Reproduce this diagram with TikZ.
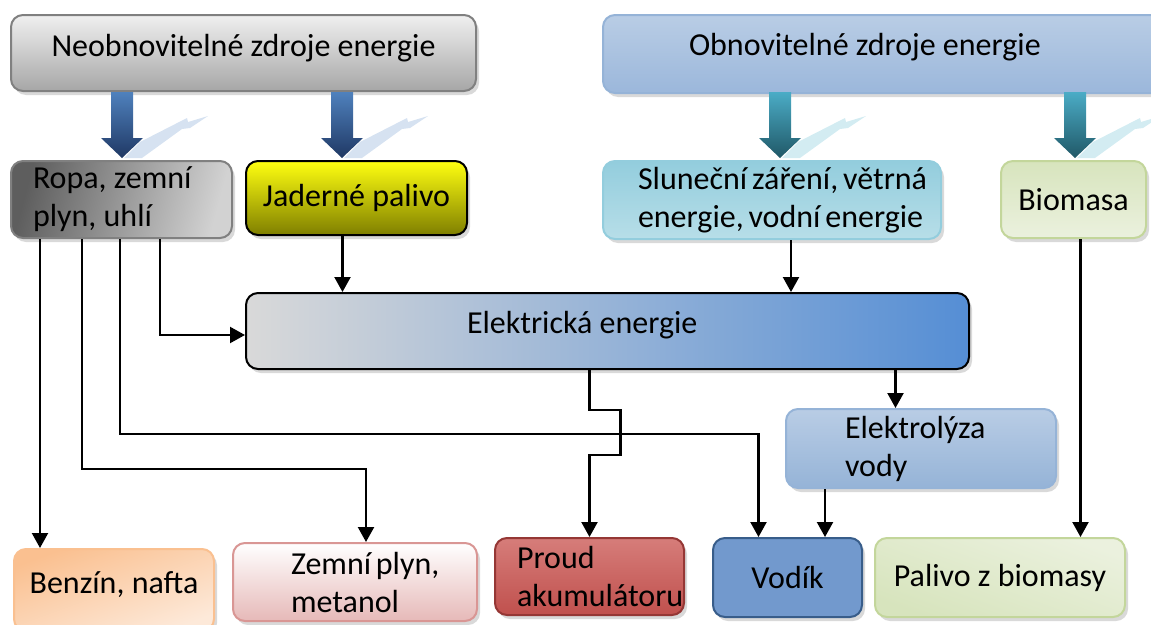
\documentclass[tikz,border=0pt]{standalone}
\usepackage{fontspec}
\setmainfont{Carlito}
\usetikzlibrary{arrows.meta,shadows,calc}

\definecolor{neobtop}{HTML}{F0F0F0}
\definecolor{neobbot}{HTML}{A6A6A6}
\definecolor{grayline}{HTML}{808080}
\definecolor{obntop}{HTML}{B9CDE5}
\definecolor{obnmid}{HTML}{DCE6F2}
\definecolor{obnbot}{HTML}{9BB7DB}
\definecolor{obnline}{HTML}{95B3D7}
\definecolor{ropal}{HTML}{5E5E5E}
\definecolor{ropar}{HTML}{D2D2D2}
\definecolor{jadtop}{HTML}{FFFF10}
\definecolor{jadbot}{HTML}{7F7F00}
\definecolor{sluntop}{HTML}{93CDDD}
\definecolor{slunmid}{HTML}{DAEEF3}
\definecolor{slunbot}{HTML}{B7DEE8}
\definecolor{greentop}{HTML}{D7E4BD}
\definecolor{greenmid}{HTML}{EBF1DE}
\definecolor{greenline}{HTML}{C3D69B}
\definecolor{elekl}{HTML}{D9D9D9}
\definecolor{elekr}{HTML}{558ED5}
\definecolor{benztop}{HTML}{FAC090}
\definecolor{benzbot}{HTML}{FDE9D9}
\definecolor{pinkbot}{HTML}{E6B9B8}
\definecolor{pinkline}{HTML}{D99694}
\definecolor{redtop}{HTML}{D67D7A}
\definecolor{redmid}{HTML}{C0504D}
\definecolor{redline}{HTML}{953735}
\definecolor{bluetop}{HTML}{7299CD}
\definecolor{bluemid}{HTML}{4A7CBA}
\definecolor{blueline}{HTML}{385D8A}
\definecolor{arrtop}{HTML}{4F81BD}
\definecolor{arrbot}{HTML}{1F3864}
\definecolor{tealtop}{HTML}{4BACC6}
\definecolor{tealbot}{HTML}{205867}
\definecolor{glintblue}{HTML}{D6E2F1}
\definecolor{glintteal}{HTML}{D3ECF2}

\tikzset{
  box/.style={rectangle, rounded corners=12pt, anchor=north west, line width=2pt,
    inner sep=0pt, font=\fontsize{32}{38}\selectfont,
    execute at begin node={\hyphenpenalty=10000},
    drop shadow={shadow xshift=3pt, shadow yshift=-4pt, opacity=.3}},
  lbox/.style={align=flush left, inner xsep=#1},
  line/.style={line width=2.2pt, -{Triangle[length=15pt,width=16pt]}},
}

\begin{document}
\begin{tikzpicture}[x=1pt,y=-1pt]
\useasboundingbox (0,0) rectangle (1151,624);

% zdroje
\node[box, draw=grayline, top color=neobtop, bottom color=neobbot,
  minimum width=465, minimum height=76, text depth=16pt] (neob) at (10,14) {Neobnovitelné zdroje energie};
\node[box, draw=obnline, top color=obntop, middle color=obnmid, bottom color=obnbot,
  minimum width=563, minimum height=78, lbox=86, text width=391, text depth=20pt] (obnov) at (602,14) {Obnovitelné zdroje energie};

% druhy
\node[box, draw=grayline, left color=ropal, right color=ropar, shading angle=75,
  minimum width=221, minimum height=77, lbox=22, text width=177] (ropa) at (10,160) {Ropa, zemní\\plyn, uhlí};
\node[box, draw=black, top color=jadtop, bottom color=jadbot,
  minimum width=221, minimum height=74] (jad) at (245,160) {Jaderné palivo};
\node[box, draw=sluntop, top color=sluntop, middle color=slunmid, bottom color=slunbot,
  minimum width=338, minimum height=78, lbox=35, text width=268] (slun) at (602,160) {Sluneční~záření,~větrná\\energie,~vodní~energie};
\node[box, draw=greenline, top color=greentop, bottom color=greenmid,
  minimum width=145, minimum height=77] (bio) at (1000,160) {Biomasa};

% elektrina
\node[box, draw=black, left color=elekl, right color=elekr,
  minimum width=723, minimum height=76, lbox=221, text width=281, text depth=18pt] (elek) at (245,292) {Elektrická energie};
\node[box, draw=obnline, top color=obntop, middle color=obnmid, bottom color=obnline,
  minimum width=270, minimum height=79, lbox=59, text width=152] (elyz) at (785,408) {Elektrolýza\\vody};

% paliva
\node[box, draw=benztop, top color=benztop, bottom color=benzbot, shading angle=20,
  minimum width=200, minimum height=82, text depth=14pt] (benzin) at (13,548) {Benzín, nafta};
\node[box, draw=pinkline, top color=white, bottom color=pinkbot,
  minimum width=244, minimum height=78, lbox=58, text width=128] (zemni) at (232,542) {Zemní~plyn,\\metanol};
\node[box, draw=redline, top color=redtop, middle color=redmid, bottom color=redmid,
  minimum width=189, minimum height=77, lbox=22, text width=145] (proud) at (494,537) {Proud\\akumulátoru};
\node[box, draw=blueline, top color=bluetop, middle color=bluemid, bottom color=bluetop,
  minimum width=149, minimum height=79] (vodik) at (712,537) {Vodík};
\node[box, draw=greenline, top color=greenmid, bottom color=greentop, shading angle=-20,
  minimum width=250, minimum height=79] (palivo) at (874,537) {Palivo z biomasy};

% blokove sipky
\foreach \x/\ct/\cb/\cg in {122/arrtop/arrbot/glintblue, 342/arrtop/arrbot/glintblue,
    780/tealtop/tealbot/glintteal, 1075/tealtop/tealbot/glintteal} {
  \fill[\cg] (\x+2,158) -- (\x+18,142) -- (\x+65,118) -- (\x+66,122) -- (\x+86,116)
    -- (\x+68,128) -- (\x+60,129) -- (\x+20,158) -- cycle;
  \shade[top color=\ct, bottom color=\cb] (\x-11,92) -- (\x+11,92) -- (\x+11,138)
    -- (\x+21,138) -- (\x,158) -- (\x-21,138) -- (\x-11,138) -- cycle;
}

% spojnice
\draw[line] ([xshift=30]ropa.south west) -- ([xshift=30]ropa.south west |- benzin.north);
\draw[line] ([xshift=72]ropa.south west) -- ++(0,230) -| ([xshift=11]zemni.north);
\draw[line] ([xshift=110]ropa.south west) -- ++(0,195) -| ([xshift=-29]vodik.north);
\draw[line] ([xshift=150]ropa.south west) |- ([yshift=-4]elek.west);
\draw[line] ([xshift=-14]jad.south) -- ([xshift=-14]jad.south |- elek.north);
\draw[line] ([xshift=19]slun.south) -- ([xshift=19]slun.south |- elek.north);
\draw[line] ([xshift=7]bio.south) -- ([xshift=7]bio.south |- palivo.north);
\draw[line] ([xshift=288]elek.south) -- ([xshift=288]elek.south |- elyz.north);
\draw[line] ([xshift=-96]elyz.south) -- ([xshift=-96]elyz.south |- vodik.north);
\draw[line] ([xshift=-18]elek.south) -- ++(0,40) -- ++(31,0) -- ++(0,45) -| (proud.north);
\end{tikzpicture}
\end{document}
